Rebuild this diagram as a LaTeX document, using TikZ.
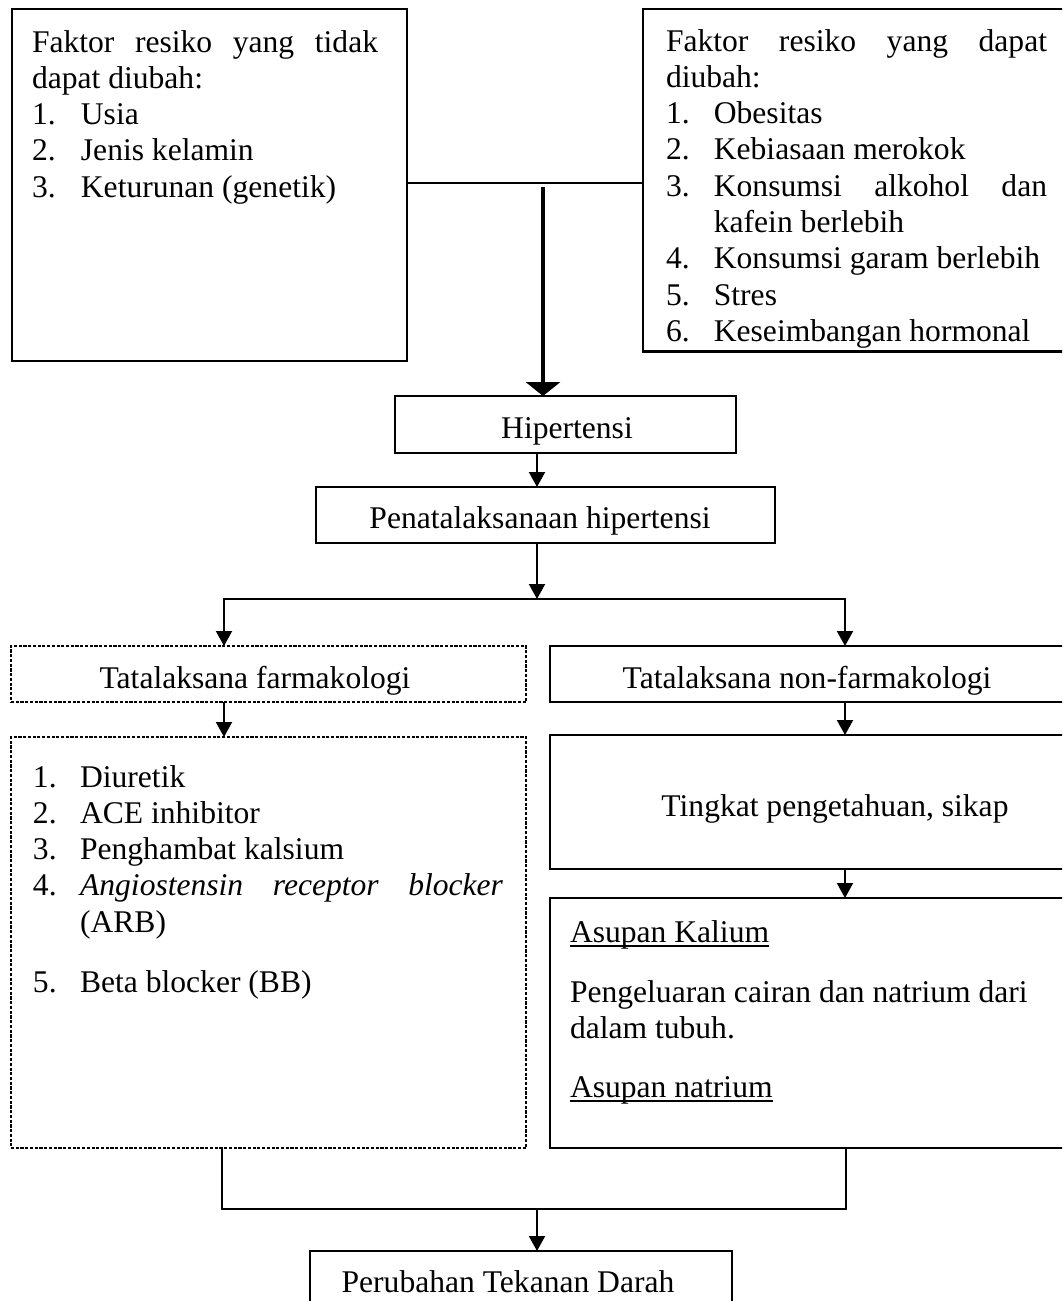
\documentclass[tikz,border=0pt]{standalone}
\usepackage{fontspec}
\setmainfont{Liberation Serif}
\usetikzlibrary{arrows.meta}
\hyphenpenalty=10000
\exhyphenpenalty=10000
\tolerance=10000
\newlength\myitemind
\newcommand\basefont{\fontsize{12pt}{13.8pt}\selectfont}
\newcommand\jfont{\basefont\parindent=0pt\spaceskip=3pt plus 10pt minus 1pt\relax}
\newcommand\numitem[2]{\par\noindent\hangindent=\myitemind\hangafter=1\makebox[\myitemind][l]{#1}#2\par}
\newcommand\myul[1]{\leavevmode\setbox0=\hbox{#1}\rlap{\rule[-1.9pt]{\wd0}{0.7pt}}\box0}
\tikzset{
  every node/.style={inner sep=0pt, outer sep=0pt},
  topbox/.style={draw, line width=1.1pt, rectangle, anchor=north west},
  plainbox/.style={draw, line width=0.6pt, rectangle, anchor=north west},
  dashbox/.style={draw, line width=0.6pt, dash pattern=on 1.2pt off 0.6pt, rectangle, anchor=north west},
  lbl/.style={anchor=base, font=\basefont},
  para/.style={anchor=north west, align=justify, font=\jfont},
  conn/.style={line width=0.7pt, line join=miter},
  arr/.style={conn, -{Triangle[width=6.1pt,length=5.7pt]}},
  bigarr/.style={line width=1.65pt, -{Triangle[width=12.9pt,length=5.3pt]}},
}
\begin{document}
\begin{tikzpicture}[x=0.38pt,y=-0.38pt]
\useasboundingbox (0,0) rectangle (1062,1301);
\clip (0,0) rectangle (1062,1301);
\fill[white] (0,0) rectangle (1062,1301);

% boxes
\node[topbox, minimum width=150.1pt, minimum height=133.76pt] (A) at (12,9) {};
\node[topbox, minimum width=164.2pt, minimum height=130.3pt] (B) at (643,9) {};
\node[plainbox, minimum width=129.6pt, minimum height=21.7pt] (hip) at (395,396) {};
\node[plainbox, minimum width=174.4pt, minimum height=21.3pt] (pen) at (316,487) {};
\node[dashbox, minimum width=195.7pt, minimum height=21.3pt] (farm) at (11,646) {};
\node[plainbox, minimum width=199.5pt, minimum height=21.3pt] (nonf) at (550,646) {};
\node[dashbox, minimum width=195.7pt, minimum height=156.2pt] (list) at (11,737) {};
\node[plainbox, minimum width=199.5pt, minimum height=50.9pt] (ting) at (550,735) {};
\node[plainbox, minimum width=199.5pt, minimum height=95pt] (asup) at (550,898) {};
\node[plainbox, minimum width=160.4pt, minimum height=22.8pt] (per) at (310,1251) {};

% texts
\node[para, text width=131.5pt] (At) at (32,25.7) {\setlength\myitemind{18.6pt}%
\noindent\rule{0pt}{10pt}Faktor resiko yang tidak dapat diubah:\par
\numitem{1.}{Usia}
\numitem{2.}{Jenis kelamin}
\numitem{3.}{Keturunan (genetik)}};

\node[para, text width=144.8pt] (Bt) at (666,24.7) {\setlength\myitemind{18.2pt}%
\noindent\rule{0pt}{10pt}Faktor resiko yang dapat diubah:\par
\numitem{1.}{Obesitas}
\numitem{2.}{Kebiasaan merokok}
\numitem{3.}{Konsumsi alkohol dan kafein berlebih}
\numitem{4.}{Konsumsi garam berlebih}
\numitem{5.}{Stres}
\numitem{6.}{Keseimbangan hormonal}};

\node[lbl] (hipt) at (567,438) {Hipertensi};
\node[lbl] (pent) at (540,528) {Penatalaksanaan hipertensi};
\node[lbl] (farmt) at (255,688) {Tatalaksana farmakologi};
\node[lbl] (nonft) at (807,688) {Tatalaksana non-farmakologi};

\node[para, text width=178.6pt] (listt) at (33,750.7) {\setlength\myitemind{17.9pt}%
\numitem{\rule{0pt}{10pt}1.}{Diuretik}
\numitem{2.}{ACE inhibitor}
\numitem{3.}{Penghambat kalsium}
\numitem{4.}{\textit{Angiostensin receptor blocker} (ARB)}
\vspace{9pt}
\numitem{5.}{Beta blocker (BB)}};

\node[lbl] (tingt) at (835,816) {Tingkat pengetahuan, sikap};

\node[para, text width=185pt] (asupt) at (570,915.7) {\rightskip=0pt plus 1fil\relax
\noindent\rule{0pt}{10pt}\myul{Asupan Kalium}\par
\vspace{9pt}
\noindent Pengeluaran cairan dan natrium dari dalam tubuh.\par
\vspace{8.5pt}
\noindent\myul{Asupan natrium}};

\node[lbl] (pert) at (508,1292) {Perubahan Tekanan Darah};

% connectors
\coordinate (hl) at (543,183);
\draw[conn] (A.east |- hl) -- (B.west |- hl);
\coordinate (ts) at (543,187);
\draw[bigarr] (ts) -- (ts |- hip.north);
\coordinate (xm) at (537,0);
\draw[arr] (hip.south -| xm) -- (pen.north -| xm);
\coordinate (split) at (537,599);
\draw[arr] (pen.south -| xm) -- (split);
\coordinate (sl) at (224,599);
\coordinate (sr) at (845,599);
\draw[arr] (sr) -- (sl) -- (farm.north -| sl);
\draw[arr] (sl) -- (sr) -- (nonf.north -| sr);
\draw[arr] (farm.south -| sl) -- (list.north -| sl);
\draw[arr] (nonf.south -| sr) -- (ting.north -| sr);
\draw[arr] (ting.south -| sr) -- (asup.north -| sr);
\coordinate (jl) at (222,1209);
\coordinate (jr) at (846,1209);
\draw[conn] (list.south -| jl) -- (jl) -- (jr) -- (asup.south -| jr);
\coordinate (jm) at (537,1209);
\draw[arr] (jm) -- (per.north -| jm);
\end{tikzpicture}
\end{document}
